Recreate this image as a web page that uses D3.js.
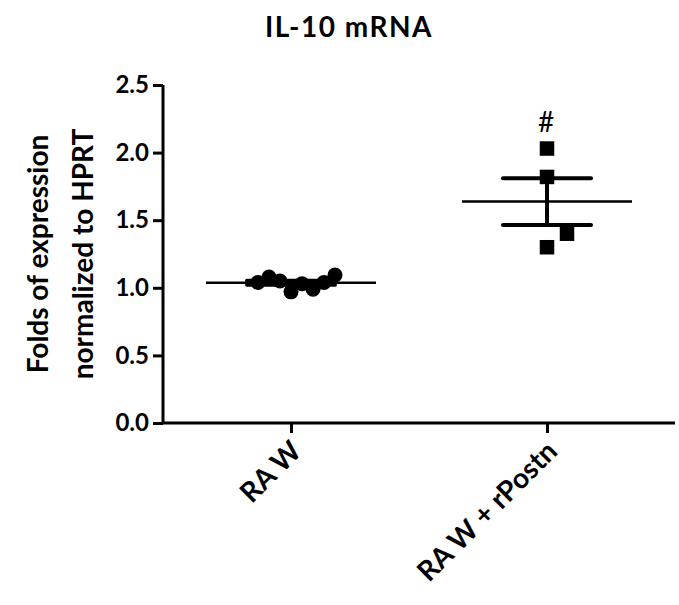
<!DOCTYPE html>
<html>
<head>
<meta charset="utf-8">
<script src="https://cdn.jsdelivr.net/npm/d3@7"></script>
<style>
  body { margin: 0; background: #fff; }
  text { font-family: Lato, "Open Sans", sans-serif; font-weight: bold; fill: #000; }
</style>
</head>
<body>
<script>
var groups = ['RAW', 'RAW + rPostn'];
var rawValues = [0.97, 1.03, 1.05, 0.99, 1.08, 1.04, 1.04, 1.095];
var postnValues = [2.03, 1.82, 1.30, 1.40];
var yTicks = [0.0, 0.5, 1.0, 1.5, 2.0, 2.5];

var width = 679;
var height = 605;

var margin = {
        left:163,
        right:4,
        top:85,
        bottom:182
};

var svg = d3.select("body")
        .append("svg")
        .attr("width", width)
        .attr("height", height);

// y scale: 0 sits on the x axis, 2.5 at the top
var y = d3.scaleLinear()
        .domain([0, 2.5])
        .range([height - margin.bottom, margin.top]);

// x scale: one point per group
var x = d3.scalePoint()
        .domain(groups)
        .range([margin.left, width - margin.right])
        .padding(0.5);

// title
svg.append("text")
        .attr("x", 349)
        .attr("y", 37)
        .attr("text-anchor", "middle")
        .style("font-size", "28px")
        .style("letter-spacing", "1.5px")
        .text("IL-10 mRNA");

// y axis
var yAxis = d3.axisLeft(y)
        .tickValues(yTicks)
        .tickFormat(d3.format(".1f"))
        .tickSize(10)
        .tickPadding(4);

var yG = svg.append("g")
        .attr("transform", "translate(" + margin.left + ",0)")
        .call(yAxis);
yG.select(".domain").attr("stroke-width", 3).attr("d", "M0," + y(2.5) + "V" + y(0));
yG.selectAll(".tick line").attr("stroke-width", 3);
yG.selectAll(".tick text").style("font-size", "24px").style("font-family", "Lato").style("font-weight", "bold");

// x axis
var xAxis = d3.axisBottom(x).tickSize(10).tickFormat("");
var xG = svg.append("g")
        .attr("transform", "translate(0," + y(0) + ")")
        .call(xAxis);
xG.select(".domain").attr("stroke-width", 3).attr("d", "M" + margin.left + ",0H" + (width - margin.right));
xG.selectAll(".tick line").attr("stroke-width", 3);

// rotated group labels
svg.selectAll(".xlabel")
        .data(groups)
        .enter().append("text")
        .attr("class", "xlabel")
        .attr("text-anchor", "end")
        .attr("transform", function(d){ return "translate(" + (x(d) + 12) + "," + (y(0) + 30) + ") rotate(-45)"; })
        .style("font-size", "28px")
        .text(function(d){ return d.replace("RAW", "RA W"); });

// y axis title, two lines
var yTitle = svg.append("text")
        .attr("transform", "translate(48," + ((y(0) + y(2.5)) / 2) + ") rotate(-90)")
        .attr("text-anchor", "middle")
        .style("font-size", "28px");
yTitle.append("tspan").attr("x", 0).attr("y", 0).text("Folds of expression");
yTitle.append("tspan").attr("x", 0).attr("y", 45).text("normalized to HPRT");

// scatter layout: push overlapping points sideways, slot 0, +1, -1, +2 ...
function spread(values, step, minGap) {
    var placed = [];
    return values.map(function(v) {
        var k = 0;
        while (true) {
            var slot = k === 0 ? 0 : (k % 2 ? (k + 1) / 2 : -k / 2);
            var hit = placed.some(function(p){ return p.slot === slot && Math.abs(y(p.v) - y(v)) < minGap; });
            if (!hit) { placed.push({v: v, slot: slot}); return {v: v, dx: slot * step}; }
            k++;
        }
    });
}

var rawPts = spread(rawValues, 11, 18);
var postnPts = spread(postnValues, 20, 18);

function drawSummary(values, cx, capHalf) {
    var m = d3.mean(values);
    var sem = d3.deviation(values) / Math.sqrt(values.length);
    svg.append("line")
            .attr("x1", cx - capHalf).attr("x2", cx + capHalf)
            .attr("y1", y(m + sem)).attr("y2", y(m + sem))
            .attr("stroke", "#000").attr("stroke-width", 4).attr("stroke-linecap", "round");
    svg.append("line")
            .attr("x1", cx - capHalf).attr("x2", cx + capHalf)
            .attr("y1", y(m - sem)).attr("y2", y(m - sem))
            .attr("stroke", "#000").attr("stroke-width", 4).attr("stroke-linecap", "round");
    svg.append("line")
            .attr("x1", cx).attr("x2", cx)
            .attr("y1", y(m + sem)).attr("y2", y(m - sem))
            .attr("stroke", "#000").attr("stroke-width", 4);
    svg.append("line")
            .attr("x1", cx - 85).attr("x2", cx + 85)
            .attr("y1", y(m)).attr("y2", y(m))
            .attr("stroke", "#000").attr("stroke-width", 2.5);
}

// points
svg.selectAll(".raw")
        .data(rawPts)
        .enter().append("circle")
        .attr("class", "raw")
        .attr("cx", function(d){ return x(groups[0]) + d.dx; })
        .attr("cy", function(d){ return y(d.v); })
        .attr("r", 7.5)
        .attr("fill", "#000");

svg.selectAll(".postn")
        .data(postnPts)
        .enter().append("rect")
        .attr("class", "postn")
        .attr("x", function(d){ return x(groups[1]) + d.dx - 7.25; })
        .attr("y", function(d){ return y(d.v) - 7.25; })
        .attr("width", 14.5)
        .attr("height", 14.5)
        .attr("fill", "#000");

drawSummary(rawValues, x(groups[0]), 44);
drawSummary(postnValues, x(groups[1]), 44);

// significance mark
svg.append("text")
        .attr("x", x(groups[1]) - 1)
        .attr("y", y(d3.max(postnValues)) - 17)
        .attr("text-anchor", "middle")
        .style("font-size", "28px")
        .style("font-weight", "normal")
        .text("#");
</script>
</body>
</html>
